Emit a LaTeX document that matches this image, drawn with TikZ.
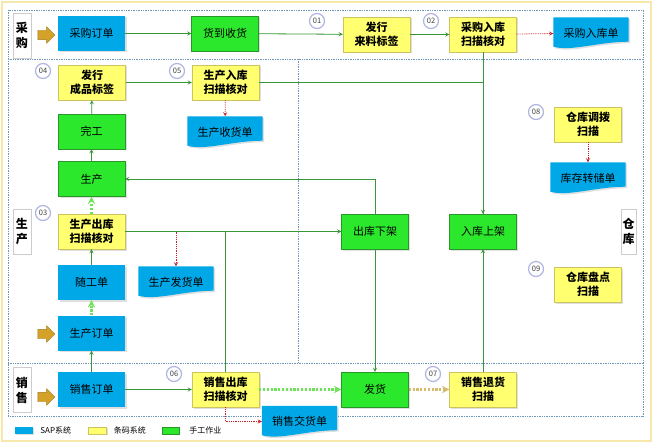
\documentclass[tikz,border=0pt]{standalone}
\usepackage{fontspec}
\setmainfont{Noto Sans CJK SC}
\usepackage{tikz}
\usetikzlibrary{shapes.geometric, shapes.arrows, arrows, positioning, shadows, backgrounds}

\definecolor{sapblue}{RGB}{0,168,232}
\definecolor{barcode}{RGB}{255,255,112}
\definecolor{scanedge}{RGB}{205,195,95}
\definecolor{manual}{RGB}{44,232,44}
\definecolor{workedge}{RGB}{40,150,40}
\definecolor{flowgreen}{RGB}{56,150,56}
\definecolor{docred}{RGB}{200,30,40}
\definecolor{lanedot}{RGB}{110,150,185}
\definecolor{frameyel}{RGB}{246,232,170}
\definecolor{pingold}{RGB}{212,162,40}
\definecolor{steplav}{RGB}{175,180,225}
\definecolor{lightflow}{RGB}{110,226,90}
\definecolor{tanflow}{RGB}{214,186,110}

\begin{document}
\begin{tikzpicture}[x=1pt, y=-1pt,
        sap/.style={rectangle, fill=sapblue, minimum width=67pt, minimum height=35pt, inner sep=1pt, align=center, font=\fontsize{11}{13}\selectfont, drop shadow={opacity=0.25, shadow xshift=1.5pt, shadow yshift=-1.5pt}},
        scan/.style={rectangle, draw=scanedge, fill=barcode, minimum width=67pt, minimum height=35pt, inner sep=1pt, align=center, font=\bfseries\fontsize{11}{13.5}\selectfont, drop shadow={opacity=0.25, shadow xshift=1.5pt, shadow yshift=-1.5pt}},
        work/.style={rectangle, draw=workedge, fill=manual, minimum width=67pt, minimum height=35pt, inner sep=1pt, align=center, font=\fontsize{11}{13}\selectfont, drop shadow={opacity=0.25, shadow xshift=1.5pt, shadow yshift=-1.5pt}},
        doc/.style={rectangle, minimum width=75pt, minimum height=31pt, inner sep=1pt, font=\fontsize{11}{13}\selectfont},
        stepno/.style={circle, draw=steplav, line width=1.2pt, fill=white, minimum size=15pt, inner sep=0pt, font=\fontsize{7.5}{8}\selectfont, text=black!75},
        lanelabel/.style={rectangle, draw=black!20, fill=white, minimum width=18pt, minimum height=45pt, inner sep=0pt, align=center, font=\bfseries\fontsize{12}{15}\selectfont},
        inarrow/.style={single arrow, fill=pingold, draw=pingold!75!black, minimum height=17pt, inner sep=4.5pt, single arrow head extend=3.5pt},
        lanes/.style={densely dotted, draw=lanedot, line width=0.7pt},
        arrow/.style={->, >=stealth, line width=0.8pt, color=flowgreen},
        link/.style={line width=0.8pt, color=flowgreen},
        docarrow/.style={->, >=stealth, densely dotted, line width=0.8pt, color=docred},
        flow/.style={->, >=stealth, dash pattern=on 2.2pt off 1.6pt, line width=2.2pt, color=lightflow},
        backflow/.style={->, >=stealth, dash pattern=on 2.2pt off 1.6pt, line width=2.2pt, color=tanflow},
        legbox/.style={rectangle, minimum width=18pt, minimum height=7pt, inner sep=0pt, drop shadow={opacity=0.25, shadow xshift=1pt, shadow yshift=-1pt}},
        legtext/.style={inner sep=1pt, font=\fontsize{8}{9}\selectfont}
    ]
        \useasboundingbox (0,0) rectangle (655,446);

        % Rahmen und Bahnen
        \begin{scope}[on background layer]
            \draw[frameyel, line width=2pt] (2,2) rectangle (651,441);
            \draw[lanes] (8,10) rectangle (643,416);
            \draw[lanes] (8,59) -- (643,59);
            \draw[lanes] (8,363) -- (643,363);
            \draw[lanes] (298,59) -- (298,363);
        \end{scope}

        \node[lanelabel] (lpur) at (22,35.5) {采\\购};
        \node[lanelabel] (lprod) at (22,231.5) {生\\产};
        \node[lanelabel] (lsale) at (22,390) {销\\售};
        \node[lanelabel, minimum width=15pt] (lwh) at (628.5,231.5) {仓\\库};

        \node[inarrow] (in1) at (44,35) {};
        \node[inarrow] (in2) at (44,334) {};
        \node[inarrow] (in3) at (44,397) {};

        % Einkauf
        \node[sap] (po) at (91.5,33.5) {采购订单};
        \node[work] (gr) at (225,33.5) {货到收货};
        \node[scan] (rlabel) at (376.5,34.5) {发行\\来料标签};
        \node[scan] (rscan) at (483,34.5) {采购入库\\扫描核对};
        \node[doc] (rdoc) at (591,33) {采购入库单};

        % Produktion
        \node[scan] (flabel) at (92,82.5) {发行\\成品标签};
        \node[scan] (fscan) at (225.5,82.5) {生产入库\\扫描核对};
        \node[doc] (fdoc) at (225,132) {生产收货单};
        \node[work] (done) at (91.5,131.5) {完工};
        \node[work] (prod) at (91.5,179) {生产};
        \node[scan] (iscan) at (91.5,231.5) {生产出库\\扫描核对};
        \node[sap] (card) at (91.5,282.5) {随工单};
        \node[doc] (idoc) at (176,282) {生产发货单};
        \node[sap] (mo) at (91.5,333) {生产订单};

        % Lager
        \node[scan] (tscan) at (588,124.5) {仓库调拨\\扫描};
        \node[doc] (tdoc) at (588,178) {库存转储单};
        \node[work] (pick) at (375,231.5) {出库下架};
        \node[work] (putaway) at (483,231.5) {入库上架};
        \node[scan] (cscan) at (588,284.5) {仓库盘点\\扫描};

        % Verkauf
        \node[sap] (so) at (91.5,389.5) {销售订单};
        \node[scan] (sscan) at (225.5,389.5) {销售出库\\扫描核对};
        \node[doc] (sdoc) at (299.5,421.5) {销售交货单};
        \node[work] (ship) at (375,389.5) {发货};
        \node[scan] (rtscan) at (483,389.5) {销售退货\\扫描};

        % Belege
        \begin{scope}[on background layer]
            \foreach \d in {rdoc, fdoc, idoc, tdoc, sdoc}
                \fill[sapblue, drop shadow={opacity=0.25, shadow xshift=1.5pt, shadow yshift=-1.5pt}] (\d.north west) -- (\d.north east) -- ([yshift=7pt]\d.south east) .. controls +(-30,0) and +(18,5) .. ([yshift=2pt]\d.south west) -- cycle;
        \end{scope}

        % Schritte
        \node[stepno] (s01) at (317,21) {01};
        \node[stepno] (s02) at (431,21) {02};
        \node[stepno] (s03) at (43,213) {03};
        \node[stepno] (s04) at (43,71) {04};
        \node[stepno] (s05) at (177,71) {05};
        \node[stepno] (s06) at (174,374) {06};
        \node[stepno] (s07) at (433,374) {07};
        \node[stepno] (s08) at (536,112) {08};
        \node[stepno] (s09) at (536,269) {09};

        % Verbindungen
        \draw[arrow] (po) -- (gr);
        \draw[arrow] (gr) -- (rlabel);
        \draw[arrow] (rlabel) -- (rscan);
        \draw[docarrow] (rscan) -- (rdoc);
        \draw[arrow] (rscan) -- (putaway);
        \draw[link] (fscan) -| (putaway);
        \draw[arrow] (flabel) -- (fscan);
        \draw[docarrow] (fscan) -- (fdoc);
        \draw[arrow] (done) -- (flabel);
        \draw[arrow] (prod) -- (done);
        \draw[flow] (iscan) -- (prod);
        \draw[arrow] (card) -- (iscan);
        \draw[flow] (mo) -- (card);
        \draw[arrow] (so) -- (mo);
        \draw[arrow] (pick) |- (prod);
        \draw[arrow] (iscan) -- (pick);
        \coordinate (tap) at (iscan.east -| idoc.north);
        \draw[docarrow] (tap) -- (idoc);
        \draw[link] (iscan) -| (sscan);
        \draw[docarrow] (sscan) |- (sdoc);
        \draw[arrow] (so) -- (sscan);
        \draw[flow] (sscan) -- (ship);
        \draw[arrow] (pick) -- (ship);
        \draw[backflow] (ship) -- (rtscan);
        \draw[arrow] (rtscan) -- (putaway);
        \draw[docarrow] (tscan) -- (tdoc);

        % Legende
        \node[legbox, fill=sapblue] (lg1) at (24,430.5) {};
        \node[legtext, right=6pt of lg1] (lt1) {SAP系统};
        \node[legbox, fill=barcode, draw=scanedge] (lg2) at (97.5,430.5) {};
        \node[legtext, right=6pt of lg2] (lt2) {条码系统};
        \node[legbox, fill=manual, draw=workedge, minimum width=17pt] (lg3) at (170.5,430.5) {};
        \node[legtext, right=9pt of lg3] (lt3) {手工作业};
    \end{tikzpicture}
\end{document}
